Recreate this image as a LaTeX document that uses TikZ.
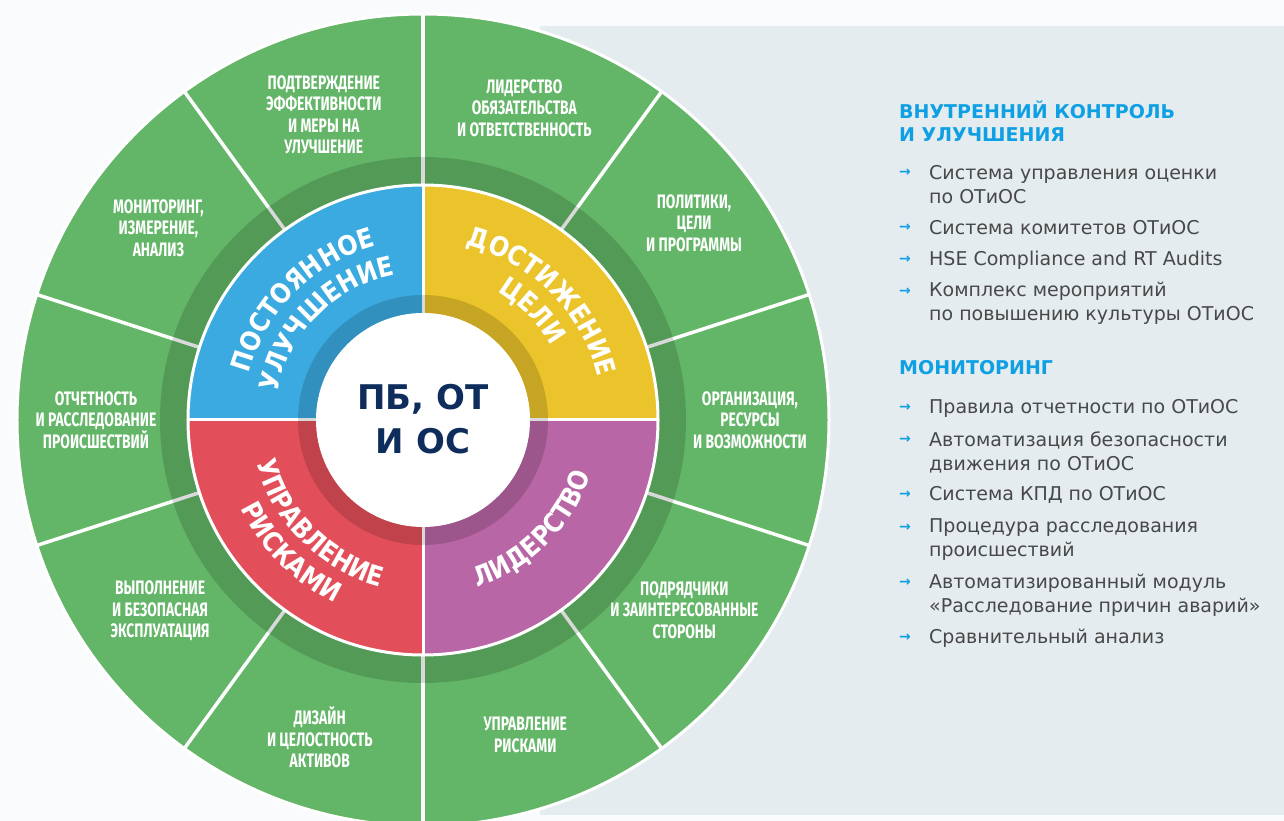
\documentclass[tikz,border=0pt]{standalone}
\usepackage{fontspec}
\setmainfont{DejaVu Sans}
\newfontfamily\condfont[FakeStretch=0.71]{Fira Sans}
\newfontfamily\arcfam[FakeStretch=0.88]{DejaVu Sans}
\usepackage{xcolor}
\usetikzlibrary{math, decorations.text}

\definecolor{lgreen}{RGB}{99,181,103}
\definecolor{cblue}{RGB}{59,170,224}
\definecolor{cyellow}{RGB}{235,195,43}
\definecolor{cred}{RGB}{226,79,90}
\definecolor{cpurple}{RGB}{184,102,165}
\definecolor{navy}{RGB}{14,45,92}
\definecolor{hblue}{RGB}{15,160,227}
\definecolor{bodygray}{RGB}{72,72,72}
\definecolor{panel}{RGB}{228,236,239}
\definecolor{paper}{RGB}{250,251,253}

\newcommand\arcfont{\color{white}\arcfam\bfseries\fontsize{27}{27}\selectfont}

\tikzset{
  seglabel/.style={text=white, align=center, inner sep=0,
    font=\condfont\bfseries\fontsize{19.5}{21.5}\selectfont},
  arctext/.style={decorate, decoration={text along path, text align=center, text={|\arcfont|#1}}},
  head/.style={anchor=west, text=hblue, align=left, inner sep=0,
    font=\bfseries\fontsize{19}{23}\selectfont},
  item/.style={anchor=west, text=bodygray, align=left, inner sep=0,
    font=\fontsize{19}{24}\selectfont},
  bulletmark/.style={text=hblue, inner sep=0, font=\bfseries\fontsize{14}{14}\selectfont},
}

\begin{document}
\begin{tikzpicture}[x=1pt, y=1pt]
\tikzmath{
\Ro=406; \Rb=263; \Rc=235; \Ri=125; \Rw=107;
}
\useasboundingbox (-423,-401) rectangle (861,420);
\fill[paper] (-423,-401) rectangle (861,420);
\fill[panel] (117,-395) rectangle (861,394);

% outer ring
\fill[lgreen] (0,0) circle (\Ro);
\foreach \a in {18,54,...,342}
  \draw[white, line width=3.5] (\a:\Rc) -- (\a:\Ro);

% inner quadrants
\fill[cyellow] (0,0) -- (0:\Rc) arc[start angle=0, end angle=90, radius=\Rc] -- cycle;
\fill[cblue] (0,0) -- (90:\Rc) arc[start angle=90, end angle=180, radius=\Rc] -- cycle;
\fill[cred] (0,0) -- (180:\Rc) arc[start angle=180, end angle=270, radius=\Rc] -- cycle;
\fill[cpurple] (0,0) -- (270:\Rc) arc[start angle=270, end angle=360, radius=\Rc] -- cycle;
\draw[white, line width=3] (-\Rc,0) -- (\Rc,0);
\draw[white, line width=3] (0,-\Rc) -- (0,\Rc);

\fill[black, opacity=0.15, even odd rule] (0,0) circle (\Rb) (0,0) circle (\Rc);
\fill[black, opacity=0.15, even odd rule] (0,0) circle (\Ri) (0,0) circle (\Rw);
\draw[white, line width=3] (0,0) circle (\Rc);
\draw[white, line width=3] (0,0) circle (\Ro);
\fill[white] (0,0) circle (\Rw);

\node[text=navy, align=center, font=\bfseries\fontsize{34}{44}\selectfont] (core) at (0,1) {ПБ, ОТ\\И ОС};

% curved titles
\path[arctext=ПОСТОЯННОЕ] (180:180) arc[start angle=180, end angle=90, radius=180];
\path[arctext=УЛУЧШЕНИЕ] (180:148) arc[start angle=180, end angle=90, radius=148];
\path[arctext=ДОСТИЖЕНИЕ] (90:180) arc[start angle=90, end angle=0, radius=180];
\path[arctext=ЦЕЛИ] (90:148) arc[start angle=90, end angle=0, radius=148];
\path[arctext=УПРАВЛЕНИЕ] (180:172) arc[start angle=180, end angle=270, radius=172];
\path[arctext=РИСКАМИ] (180:203) arc[start angle=180, end angle=270, radius=203];
\path[arctext=ЛИДЕРСТВО] (270:176) arc[start angle=270, end angle=360, radius=176];

% segment labels
\foreach \a/\r/\t [count=\i] in {
  108/321/{ПОДТВЕРЖДЕНИЕ\\ЭФФЕКТИВНОСТИ\\И МЕРЫ НА\\УЛУЧШЕНИЕ},
  72/328/{ЛИДЕРСТВО\\ОБЯЗАТЕЛЬСТВА\\И ОТВЕТСТВЕННОСТЬ},
  36/335/{ПОЛИТИКИ,\\ЦЕЛИ\\И ПРОГРАММЫ},
  0/327/{ОРГАНИЗАЦИЯ,\\РЕСУРСЫ\\И ВОЗМОЖНОСТИ},
  -36/323/{ПОДРЯДЧИКИ\\И ЗАИНТЕРЕСОВАННЫЕ\\СТОРОНЫ},
  -72/331/{УПРАВЛЕНИЕ\\РИСКАМИ},
  -108/334/{ДИЗАЙН\\И ЦЕЛОСТНОСТЬ\\АКТИВОВ},
  -144/325/{ВЫПОЛНЕНИЕ\\И БЕЗОПАСНАЯ\\ЭКСПЛУАТАЦИЯ},
  180/327/{ОТЧЕТНОСТЬ\\И РАССЛЕДОВАНИЕ\\ПРОИСШЕСТВИЙ},
  144/327/{МОНИТОРИНГ,\\ИЗМЕРЕНИЕ,\\АНАЛИЗ}}
  \node[seglabel] (seg\i) at (\a:\r) {\t};

% right column
\node[head] (head1) at (476,298.5) {ВНУТРЕННИЙ КОНТРОЛЬ\\И УЛУЧШЕНИЯ};
\node[head] (head2) at (476,52) {МОНИТОРИНГ};

\foreach \y/\b/\t [count=\i] in {
  235/247/{Система управления оценки\\по ОТиОС},
  192/192/{Система комитетов ОТиОС},
  160/160/{HSE Compliance and RT Audits},
  116.5/128/{Комплекс мероприятий\\по повышению культуры ОТиОС},
  12/12/{Правила отчетности по ОТиОС},
  -32.5/-20/{Автоматизация безопасности\\движения по ОТиОС},
  -75/-75/{Система КПД по ОТиОС},
  -120/-108/{Процедура расследования\\происшествий},
  -175/-163/{Автоматизированный модуль\\«Расследование причин аварий»},
  -218/-218/{Сравнительный анализ}}
{
  \node[item] (item\i) at (506,\y) {\t};
  \node[bulletmark] (bullet\i) at (482,\b) {→};
}

\end{tikzpicture}
\end{document}
